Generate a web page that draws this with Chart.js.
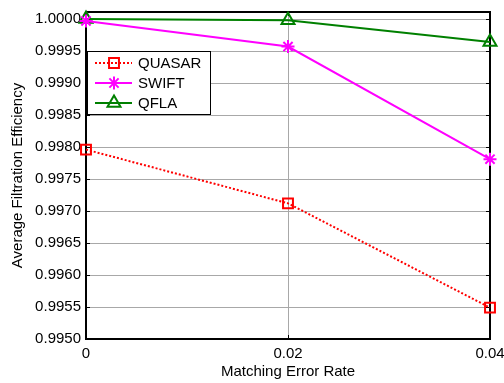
<!DOCTYPE html>
<html>
<head>
    <meta charset="utf-8">
    <title>Average Filtration Efficiency</title>
    <script src="https://cdn.jsdelivr.net/npm/chart.js@4.4.1/dist/chart.umd.min.js"></script>
    <style>
        html, body { margin: 0; padding: 0; background: #fff; overflow: hidden; }
        canvas { display: block; }
    </style>
</head>
<body>
    <canvas id="eff" width="504" height="383"></canvas>
    <script>
        // matching error rate on x, filtration efficiency per method
        var errorRates = [0, 0.02, 0.04];
        var quasar = [0.99796, 0.99712, 0.99549];
        var swift = [0.99997, 0.99957, 0.99781];
        var qfla = [1.0000, 0.99998, 0.99964];

        var xTicks = [0, 0.02, 0.04];
        var xTickLabels = ['0', '0.02', '0.04'];
        var yTicks = [0.9950, 0.9955, 0.9960, 0.9965, 0.9970, 0.9975, 0.9980, 0.9985, 0.9990, 0.9995, 1.0000];
        var yTickLabels = ['0.9950', '0.9955', '0.9960', '0.9965', '0.9970', '0.9975', '0.9980', '0.9985', '0.9990', '0.9995', '1.0000'];

        var FONT = "'Liberation Sans', Arial, sans-serif";

        function points(ys) {
            return ys.map(function (y, i) { return { x: errorRates[i], y: y }; });
        }

        // box around the axes with inward ticks on all four sides
        var axesBox = {
            id: 'axesBox',
            beforeDatasetsDraw: function (chart) {
                var ctx = chart.ctx, a = chart.chartArea;
                var xs = chart.scales.x, ys = chart.scales.y;
                ctx.save();
                ctx.strokeStyle = '#000';
                ctx.lineWidth = 1;
                ctx.beginPath();
                yTicks.forEach(function (v) {
                    var py = Math.round(ys.getPixelForValue(v)) + 0.5;
                    ctx.moveTo(a.left, py); ctx.lineTo(a.left + 4, py);
                    ctx.moveTo(a.right - 4, py); ctx.lineTo(a.right, py);
                });
                xTicks.forEach(function (v) {
                    var px = Math.round(xs.getPixelForValue(v)) + 0.5;
                    ctx.moveTo(px, a.bottom); ctx.lineTo(px, a.bottom - 4);
                    ctx.moveTo(px, a.top); ctx.lineTo(px, a.top + 4);
                });
                ctx.stroke();
                ctx.lineWidth = 2;
                ctx.strokeRect(a.left, a.top, a.right - a.left, a.bottom - a.top);
                ctx.restore();
            }
        };

        // legend box in the upper left of the plot
        var innerLegend = {
            id: 'innerLegend',
            afterDatasetsDraw: function (chart) {
                var ctx = chart.ctx, a = chart.chartArea;
                var bx = a.left + 1, by = 51, bw = 123, bh = 63;
                ctx.save();
                ctx.fillStyle = '#fff';
                ctx.fillRect(bx, by, bw, bh);
                ctx.strokeStyle = '#000';
                ctx.lineWidth = 1;
                ctx.strokeRect(bx + 0.5, by + 0.5, bw, bh);
                ctx.font = '15px ' + FONT;
                ctx.textBaseline = 'middle';
                chart.data.datasets.forEach(function (ds, i) {
                    var cy = by + 12 + i * 20;
                    ctx.strokeStyle = ds.borderColor;
                    ctx.lineWidth = ds.borderWidth;
                    ctx.setLineDash(ds.borderDash || []);
                    ctx.beginPath();
                    ctx.moveTo(bx + 8, cy);
                    ctx.lineTo(bx + 45, cy);
                    ctx.stroke();
                    ctx.setLineDash([]);
                    ctx.lineWidth = ds.pointBorderWidth;
                    ctx.strokeStyle = ds.pointBorderColor;
                    ctx.fillStyle = 'rgba(0,0,0,0)';
                    Chart.helpers.drawPoint(ctx, {
                        pointStyle: ds.pointStyle,
                        radius: ds.pointRadius,
                        rotation: 0,
                        borderWidth: ds.pointBorderWidth
                    }, bx + 27, cy);
                    ctx.fillStyle = '#000';
                    ctx.fillText(ds.label, bx + 51, cy + 1);
                });
                ctx.restore();
            }
        };

        var chart_eff = new Chart(document.getElementById('eff'), {
            type: 'line',
            data: {
                datasets: [{
                    label: 'QUASAR',
                    data: points(quasar),
                    borderColor: '#ff0000',
                    borderWidth: 2,
                    borderDash: [2, 2],
                    pointStyle: 'rect',
                    pointRadius: 7,
                    pointBorderWidth: 2,
                    pointBackgroundColor: 'rgba(0,0,0,0)',
                    pointBorderColor: '#ff0000',
                    clip: false
                }, {
                    label: 'SWIFT',
                    data: points(swift),
                    borderColor: '#ff00ff',
                    borderWidth: 2,
                    pointStyle: 'star',
                    pointRadius: 6.5,
                    pointBorderWidth: 2,
                    pointBackgroundColor: 'rgba(0,0,0,0)',
                    pointBorderColor: '#ff00ff',
                    clip: false
                }, {
                    label: 'QFLA',
                    data: points(qfla),
                    borderColor: '#008000',
                    borderWidth: 2,
                    pointStyle: 'triangle',
                    pointRadius: 7.5,
                    pointBorderWidth: 2,
                    pointBackgroundColor: 'rgba(0,0,0,0)',
                    pointBorderColor: '#008000',
                    clip: false
                }]
            },
            options: {
                responsive: false,
                animation: false,
                devicePixelRatio: 1,
                layout: { padding: { top: 12, right: 14, left: 0, bottom: 0 } },
                plugins: {
                    legend: { display: false },
                    tooltip: { enabled: false }
                },
                scales: {
                    x: {
                        type: 'linear',
                        min: 0,
                        max: 0.04,
                        afterBuildTicks: function (scale) {
                            scale.ticks = xTicks.map(function (v) { return { value: v }; });
                        },
                        afterFit: function (scale) {
                            scale.height = 44;
                            scale.paddingLeft = 0;
                            scale.paddingRight = 0;
                        },
                        ticks: {
                            autoSkip: false,
                            maxRotation: 0,
                            padding: 6,
                            color: '#000',
                            font: { family: FONT, size: 15 },
                            callback: function (v) { return xTickLabels[xTicks.indexOf(v)]; }
                        },
                        grid: { color: '#a8a8a8', lineWidth: 1, drawTicks: false },
                        border: { display: false },
                        title: {
                            display: true,
                            text: 'Matching Error Rate',
                            color: '#000',
                            font: { family: FONT, size: 15 },
                            padding: { top: 0, bottom: 2 }
                        }
                    },
                    y: {
                        min: 0.995,
                        max: 1.00011,
                        afterBuildTicks: function (scale) {
                            scale.ticks = yTicks.map(function (v) { return { value: v }; });
                        },
                        afterFit: function (scale) {
                            scale.width = 86;
                            scale.paddingTop = 0;
                            scale.paddingBottom = 0;
                        },
                        ticks: {
                            autoSkip: false,
                            padding: 5,
                            color: '#000',
                            font: { family: FONT, size: 15 },
                            callback: function (v) { return yTickLabels[yTicks.indexOf(v)]; }
                        },
                        grid: { color: '#a8a8a8', lineWidth: 1, drawTicks: false },
                        border: { display: false },
                        title: {
                            display: true,
                            text: 'Average Filtration Efficiency',
                            color: '#000',
                            font: { family: FONT, size: 15 },
                            padding: { top: 9, bottom: 0 }
                        }
                    }
                }
            },
            plugins: [axesBox, innerLegend]
        });
    </script>
</body>
</html>
